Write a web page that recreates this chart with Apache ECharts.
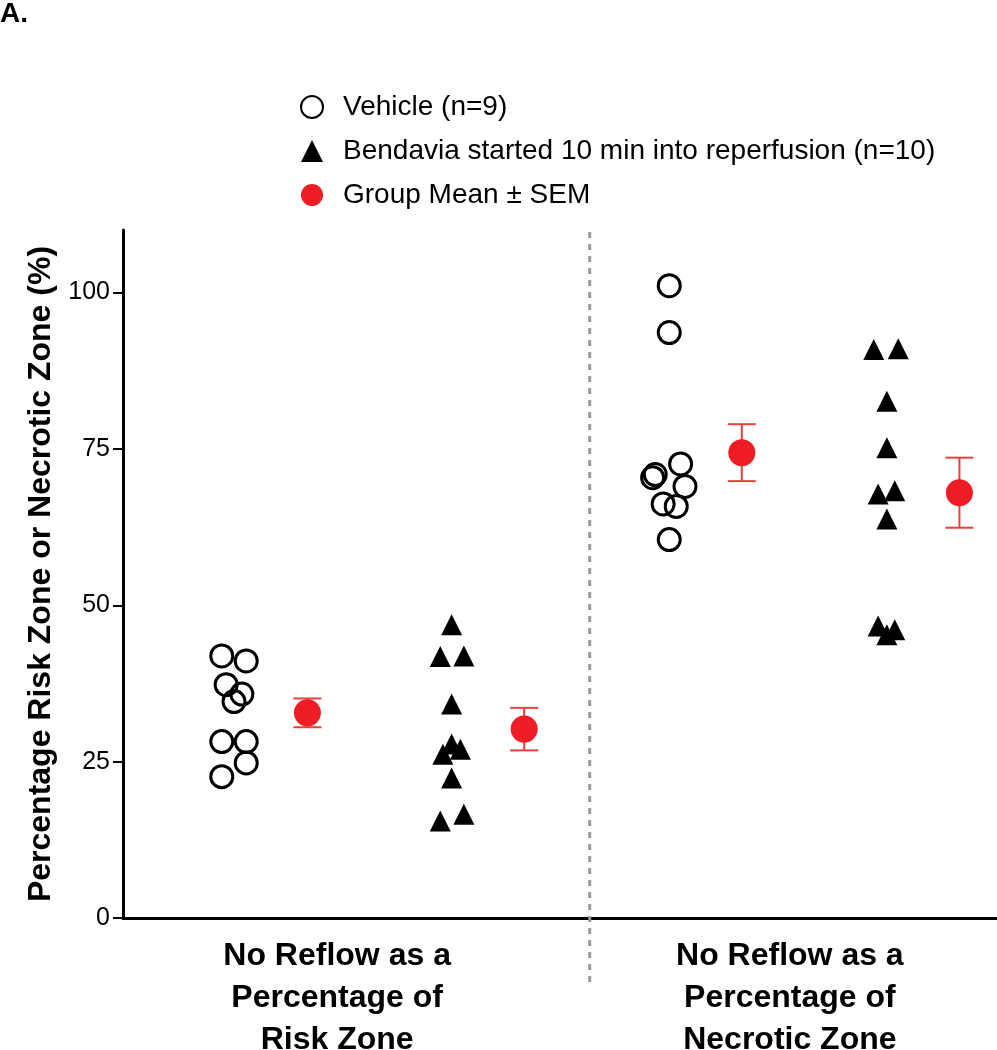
<!DOCTYPE html>
<html>
<head>
<meta charset="utf-8">
<script src="https://cdn.jsdelivr.net/npm/echarts@6/dist/echarts.min.js"></script>
<style>
  html, body { margin: 0; padding: 0; background: #fff; }
  #chart { width: 997px; height: 1050px; }
</style>
</head>
<body>
<div id="chart"></div>
<script>
// ---- data ----
const categoryLabels = ['No Reflow as a\nPercentage of\nRisk Zone', 'No Reflow as a\nPercentage of\nNecrotic Zone'];
const categoryPos = [24.5, 76.3];
const dividerX = 53.4;
const yTicks = [0, 25, 50, 75, 100];

const vehicleRZ_x = [11.3, 14.1, 11.8, 13.6, 12.7, 11.3, 14.1, 14.1, 11.3];
const vehicleRZ_y = [41.9, 41.1, 37.3, 35.8, 34.6, 28.2, 28.2, 24.8, 22.6];
const bendaviaRZ_x = [37.6, 36.3, 39.0, 37.6, 37.6, 38.6, 36.6, 37.6, 36.3, 39.0];
const bendaviaRZ_y = [46.9, 41.8, 41.9, 34.2, 27.8, 27.0, 26.2, 22.4, 15.5, 16.6];
const vehicleNZ_x = [62.5, 62.5, 63.8, 60.9, 60.6, 64.3, 61.8, 63.3, 62.5];
const vehicleNZ_y = [101.1, 93.6, 72.6, 70.9, 70.4, 69.0, 66.2, 65.8, 60.5];
const bendaviaNZ_x = [85.9, 88.7, 87.4, 87.4, 86.4, 88.3, 87.4, 86.4, 88.3, 87.4];
const bendaviaNZ_y = [90.9, 91.0, 82.6, 75.2, 67.8, 68.3, 63.8, 46.7, 46.1, 45.3];

const mean_x = [21.1, 45.9, 70.8, 95.7];
const mean_y = [32.8, 30.2, 74.4, 68.0];
const sem = [2.3, 3.4, 4.55, 5.6];

const FONT = '"Liberation Sans", Arial, Helvetica, sans-serif';
const RED = '#ee1c24';
const ERR = '#e8413c';

function zip(xs, ys) { return xs.map((x, i) => [x, ys[i]]); }

const vehicleData = zip(vehicleRZ_x, vehicleRZ_y).concat(zip(vehicleNZ_x, vehicleNZ_y));
const bendaviaData = zip(bendaviaRZ_x, bendaviaRZ_y).concat(zip(bendaviaNZ_x, bendaviaNZ_y));
const meanData = zip(mean_x, mean_y);
const errData = mean_x.map((x, i) => [x, mean_y[i] - sem[i], mean_y[i] + sem[i]]);

const chart = echarts.init(document.getElementById('chart'), null, { renderer: 'canvas' });

const option = {
  backgroundColor: '#fff',
  animation: false,
  title: {
    text: 'A.', left: 0, top: 0, padding: 0,
    textStyle: { fontFamily: FONT, fontWeight: 'bold', fontSize: 28, color: '#000' }
  },
  legend: {
    orient: 'vertical', left: 300, top: 93, padding: 0,
    itemWidth: 22, itemHeight: 22, itemGap: 16,
    symbolKeepAspect: true,
    textStyle: { fontFamily: FONT, fontSize: 28, color: '#000', padding: [0, 0, 0, 15] },
    data: ['Vehicle (n=9)', 'Bendavia started 10 min into reperfusion (n=10)', 'Group Mean ± SEM']
  },
  grid: { left: 123, right: 0, top: 230, bottom: 132, containLabel: false, outerBoundsMode: 'none' },
  xAxis: {
    type: 'value', min: 0, max: 100,
    splitLine: { show: false },
    axisLine: { show: true, onZero: false, lineStyle: { color: '#000', width: 3 } },
    axisTick: { show: false },
    axisLabel: {
      customValues: categoryPos,
      formatter: function (v) {
        const i = categoryPos.indexOf(v);
        return i >= 0 ? categoryLabels[i] : '';
      },
      margin: 17,
      fontFamily: FONT, fontWeight: 'bold', fontSize: 32, lineHeight: 42, color: '#000'
    }
  },
  yAxis: {
    type: 'value', min: 0, max: 110, interval: 25,
    name: 'Percentage Risk Zone or Necrotic Zone (%)',
    nameLocation: 'middle', nameGap: 66, nameRotate: 90,
    nameTextStyle: { fontFamily: FONT, fontWeight: 'bold', fontSize: 32, color: '#000' },
    splitLine: { show: false },
    axisLine: { show: true, lineStyle: { color: '#000', width: 3 } },
    axisTick: { show: true, customValues: yTicks, length: 10, lineStyle: { color: '#000', width: 2 } },
    axisLabel: {
      customValues: yTicks, margin: 13,
      fontFamily: FONT, fontSize: 25, color: '#000'
    }
  },
  series: [
    {
      name: 'divider', type: 'custom', clip: false, silent: true, z: 1,
      data: [[dividerX]],
      renderItem: function (params, api) {
        const top = api.coord([api.value(0), 110]);
        const bot = api.coord([api.value(0), 0]);
        return {
          type: 'line',
          shape: { x1: top[0], y1: top[1] + 2, x2: bot[0], y2: bot[1] + 65 },
          style: { stroke: '#9a9a9a', lineWidth: 3, lineDash: [6, 6] }
        };
      }
    },
    {
      name: 'Vehicle (n=9)', type: 'scatter', z: 3,
      symbol: 'circle', symbolSize: 22, symbolKeepAspect: true,
      itemStyle: { color: 'rgba(255,255,255,0)', borderColor: '#000', borderWidth: 3, opacity: 1 },
      data: vehicleData
    },
    {
      name: 'Bendavia started 10 min into reperfusion (n=10)', type: 'scatter', z: 3,
      symbol: 'triangle', symbolSize: 21, symbolKeepAspect: true,
      itemStyle: { color: '#000', opacity: 1 },
      data: bendaviaData
    },
    {
      name: 'err', type: 'custom', z: 4, silent: true,
      data: errData,
      renderItem: function (params, api) {
        const x = api.value(0);
        const lo = api.coord([x, api.value(1)]);
        const hi = api.coord([x, api.value(2)]);
        const hw = 14;
        const st = { stroke: ERR, lineWidth: 2 };
        return {
          type: 'group',
          children: [
            { type: 'line', shape: { x1: lo[0], y1: lo[1], x2: hi[0], y2: hi[1] }, style: st },
            { type: 'line', shape: { x1: hi[0] - hw, y1: hi[1], x2: hi[0] + hw, y2: hi[1] }, style: st },
            { type: 'line', shape: { x1: lo[0] - hw, y1: lo[1], x2: lo[0] + hw, y2: lo[1] }, style: st }
          ]
        };
      }
    },
    {
      name: 'Group Mean ± SEM', type: 'scatter', z: 5,
      symbol: 'circle', symbolSize: 27, symbolKeepAspect: true,
      itemStyle: { color: RED, opacity: 1 },
      data: meanData
    }
  ]
};

chart.setOption(option);
</script>
</body>
</html>
